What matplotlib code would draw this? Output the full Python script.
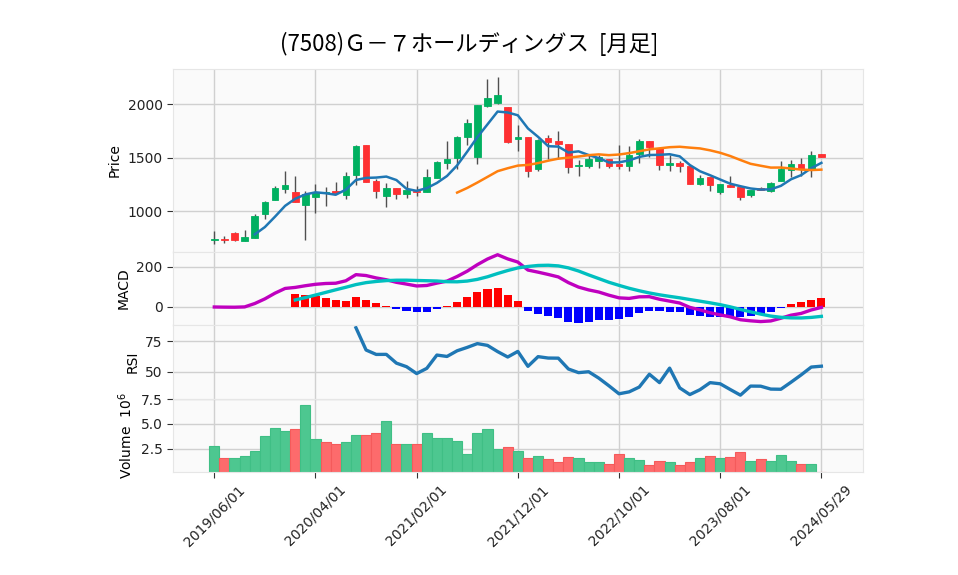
import numpy as np
import pandas as pd
import matplotlib
matplotlib.use('Agg')
import matplotlib.pyplot as plt

plt.rcParams['font.family'] = ['DejaVu Sans', 'Noto Sans CJK JP']

title = '(7508)Ｇ－７ホールディングス  [月足]'

# monthly bars, last one is the current (partial) month
dates = list(pd.date_range('2019-06-01', periods=60, freq='MS')) + [pd.Timestamp('2024-05-29')]

opens = [730, 740, 794, 722, 750, 969, 1100, 1209, 1175, 1059, 1134, 1166, 1187, 1153, 1337,
         1616, 1281, 1144, 1219, 1162, 1191, 1178, 1312, 1453, 1500, 1697, 1509, 1987, 2016, 1972,
         1678, 1694, 1394, 1684, 1659, 1628, 1422, 1422, 1472, 1487, 1441, 1422, 1537, 1656, 1588,
         1434, 1450, 1425, 1253, 1319, 1181, 1244, 1225, 1153, 1212, 1191, 1284, 1384, 1441, 1397,
         1534]
highs = [812, 765, 800, 819, 969, 1094, 1237, 1372, 1325, 1191, 1250, 1222, 1269, 1366, 1616,
         1616, 1300, 1259, 1219, 1278, 1237, 1391, 1472, 1656, 1700, 1859, 1994, 2234, 2256, 1972,
         1803, 1694, 1672, 1712, 1750, 1628, 1478, 1522, 1525, 1487, 1616, 1606, 1672, 1656, 1588,
         1525, 1469, 1425, 1337, 1319, 1250, 1325, 1225, 1200, 1228, 1272, 1469, 1478, 1497, 1562,
         1534]
lows = [688, 705, 719, 722, 750, 922, 1100, 1166, 1087, 728, 984, 1047, 1169, 1109, 1241,
        1275, 1119, 1034, 1109, 1125, 1137, 1178, 1312, 1394, 1394, 1616, 1441, 1972, 2003, 1634,
        1566, 1316, 1372, 1487, 1487, 1359, 1328, 1400, 1400, 1400, 1394, 1375, 1447, 1509, 1384,
        1372, 1362, 1250, 1244, 1188, 1162, 1228, 1100, 1128, 1195, 1175, 1284, 1316, 1328, 1316,
        1509]
closes = [740, 730, 733, 756, 953, 1081, 1216, 1241, 1087, 1156, 1178, 1175, 1169, 1325, 1609,
          1275, 1191, 1216, 1162, 1197, 1181, 1319, 1459, 1487, 1694, 1825, 1994, 2059, 2087, 1650,
          1694, 1378, 1666, 1650, 1631, 1416, 1434, 1491, 1509, 1425, 1422, 1525, 1656, 1597, 1434,
          1450, 1425, 1250, 1306, 1247, 1250, 1228, 1134, 1200, 1195, 1262, 1391, 1441, 1394, 1522,
          1509]
# volume in millions of shares
volumes = [2.74, 1.52, 1.52, 1.72, 2.23, 3.75, 4.56, 4.32, 4.46, 6.89, 3.45, 3.21, 3.00, 3.14, 3.85,
           3.85, 4.05, 5.27, 2.94, 2.94, 2.94, 4.05, 3.55, 3.55, 3.24, 1.93, 4.05, 4.46, 2.43, 2.64,
           2.23, 1.52, 1.72, 1.42, 1.11, 1.62, 1.52, 1.11, 1.11, 0.91, 1.93, 1.52, 1.32, 0.81, 1.22,
           1.11, 0.81, 1.11, 1.52, 1.72, 1.52, 1.62, 2.20, 1.22, 1.42, 1.22, 1.82, 1.22, 0.91, 0.91,
           0.17]

df = pd.DataFrame({'Open': opens, 'High': highs, 'Low': lows, 'Close': closes,
                   'Volume': volumes}, index=pd.DatetimeIndex(dates))
x = np.arange(len(df))
close = df['Close']

# indicators
ema12 = close.ewm(span=12, adjust=False).mean()
ema26 = close.ewm(span=26, adjust=False).mean()
macd = ema12 - ema26
signal = macd.rolling(9).mean()
hist = macd - signal

delta = close.diff()
gain = delta.clip(lower=0).rolling(14).mean()
loss = (-delta.clip(upper=0)).rolling(14).mean()
rsi = 100 * gain / (gain + loss)

mav5 = close.rolling(5).mean()
mav25 = close.rolling(25).mean()

up_c, dn_c = '#00b060', '#fe3032'
vol_up, vol_dn = '#4dc790', '#fd6b6c'
face = '#fafafa'
gridc = '#d0d0d0'

fig = plt.figure(figsize=(9.58, 5.75), dpi=100)
left, width = 0.1806, 0.7203
ax_p = fig.add_axes([left, 0.5617, width, 0.3183])
ax_m = fig.add_axes([left, 0.4348, width, 0.1270], sharex=ax_p)
ax_r = fig.add_axes([left, 0.3061, width, 0.1287], sharex=ax_p)
ax_v = fig.add_axes([left, 0.1791, width, 0.1270], sharex=ax_p)

# candles
up = df['Close'] >= df['Open']
colors = np.where(up, up_c, dn_c)
ax_p.vlines(x, df['Low'], df['High'], color='#505050', lw=1.0, zorder=2)
body_lo = np.minimum(df['Open'], df['Close'])
body_h = np.maximum(np.abs(df['Close'] - df['Open']), 4)
ax_p.bar(x, body_h, bottom=body_lo, width=0.65, color=colors, edgecolor=colors,
         lw=0.6, zorder=3)
ax_p.plot(x, mav5, color='#1f77b4', lw=1.8, zorder=4)
ax_p.plot(x, mav25, color='#ff7f0e', lw=1.8, zorder=4)
ax_p.set_ylim(617, 2330)
ax_p.set_yticks([1000, 1500, 2000])
ax_p.set_ylabel('Price')

# MACD
hcol = np.where(hist >= 0, 'red', 'blue')
ax_m.bar(x, hist, width=0.8, color=hcol, zorder=2)
ax_m.plot(x, macd, color='#bf00bf', lw=2.4, zorder=3)
ax_m.plot(x, signal, color='#00bfbf', lw=2.4, zorder=3)
ax_m.set_ylim(-90, 275)
ax_m.set_yticks([0, 200])
ax_m.set_ylabel('MACD')

# RSI
ax_r.plot(x, rsi, color='#1f77b4', lw=2.4)
ax_r.set_ylim(28, 88)
ax_r.set_yticks([50, 75])
ax_r.set_ylabel('RSI')

# volume, coloured by close vs previous close
vup = close.diff().fillna(0) >= 0
vcol = np.where(vup, vol_up, vol_dn)
vedge = np.where(vup, '#3fbf85', '#f55a5b')
ax_v.bar(x, df['Volume'], width=1.0, color=vcol, edgecolor=vedge, lw=0.8)
ax_v.set_ylim(0.13, 7.53)
ax_v.set_yticks([2.5, 5.0, 7.5])
ax_v.set_ylabel('Volume  $10^{6}$')

ticks = list(range(0, len(df), 10))
labels = [dates[i].strftime('%Y/%m/%d') for i in ticks]
ax_v.set_xticks(ticks)
ax_v.set_xticklabels(labels, rotation=45)
ax_v.set_xlim(-4.08, 64.12)

for ax in (ax_p, ax_m, ax_r, ax_v):
    ax.set_facecolor(face)
    ax.grid(True, color=gridc, lw=1.0)
    ax.set_axisbelow(True)
    for sp in ax.spines.values():
        sp.set_color('#e6e6e6')
    ax.tick_params(axis='y', length=4, color='#333333', labelsize=10, labelcolor='#222222')
    ax.tick_params(axis='x', length=4, color='#333333', labelsize=10, labelcolor='#222222')
    ax.yaxis.label.set_size(10)
for ax in (ax_p, ax_m, ax_r):
    ax.tick_params(axis='x', labelbottom=False, length=0)

fig.suptitle(title, x=0.49, y=0.945, fontsize=16, family=['Noto Sans CJK JP', 'DejaVu Sans'])
fig.savefig('out.png', dpi=100)
